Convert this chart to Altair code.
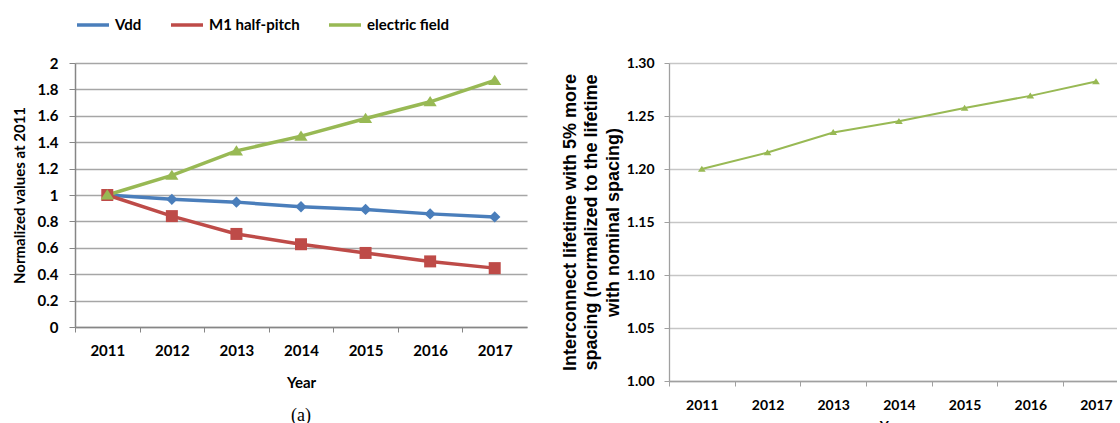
import altair as alt
import pandas as pd

# ---------------- data ----------------
years = [2011, 2012, 2013, 2014, 2015, 2016, 2017]
vdd = [1.000, 0.967, 0.946, 0.911, 0.891, 0.857, 0.834]
m1_half_pitch = [1.000, 0.840, 0.705, 0.627, 0.561, 0.497, 0.446]
electric_field = [1.000, 1.149, 1.334, 1.446, 1.580, 1.706, 1.868]
lifetime_ratio = [1.200, 1.2155, 1.2345, 1.245, 1.2575, 1.269, 1.2825]

series_names = ["Vdd", "M1 half-pitch", "electric field"]
series_colors = ["#4A7EBB", "#BE4B48", "#98B954"]

# marker paths (unit coords)
marker_paths = [
    "M0,-0.95L0.95,0L0,0.95L-0.95,0Z",
    "M-1,-1L1,-1L1,1L-1,1Z",
    "M0,-0.95L1.1,0.75L-1.1,0.75Z",
]

FONT = "Lato"

df_a = pd.DataFrame({
    "Year": years * 3,
    "value": vdd + m1_half_pitch + electric_field,
    "series": [s for s in series_names for _ in years],
})
df_b = pd.DataFrame({"Year": years, "ratio": lifetime_ratio})

# ---------------- chart (a) ----------------
W_A, H_A = 452, 264
x_a = alt.X(
    "Year:Q",
    title="Year",
    scale=alt.Scale(domain=[2010.5, 2017.5], nice=False, zero=False),
    axis=alt.Axis(
        values=[2010.5 + i for i in range(7)],
        labelExpr="format(datum.value + 0.5, 'd')",
        labelOffset=W_A / 14,
        labelFlush=False,
        labelOverlap=False,
        grid=False,
        tickSize=5,
        labelPadding=11,
        titlePadding=17,
        labelFontSize=15,
        titleFontSize=15,
        domainColor="#868686",
        tickColor="#868686",
        domainWidth=1.5,
    ),
)
y_a = alt.Y(
    "value:Q",
    title="Normalized values at 2011",
    scale=alt.Scale(domain=[0, 2], nice=False),
    axis=alt.Axis(
        values=[0, 0.2, 0.4, 0.6, 0.8, 1, 1.2, 1.4, 1.6, 1.8, 2],
        format="~g",
        tickSize=6,
        labelPadding=11,
        titlePadding=10,
        labelFontSize=15,
        titleFontSize=15,
        gridColor="#A6A6A6",
        gridWidth=1.3,
        domainColor="#868686",
        tickColor="#868686",
        domainWidth=1.5,
    ),
)

legend_def = alt.Legend(
    title=None,
    orient="top",
    offset=30,
    symbolType="M-1,0L1,0",
    symbolSize=1024,
    symbolStrokeWidth=3.5,
    labelFont=FONT,
    labelFontWeight="bold",
    labelFontSize=15,
    labelColor="black",
    columnPadding=22,
)
color_a = alt.Color("series:N", scale=alt.Scale(domain=series_names, range=series_colors), legend=legend_def)

base_a = alt.Chart(df_a)
lines_a = base_a.mark_line(strokeWidth=3.5).encode(x=x_a, y=y_a, color=color_a)

marker_layers = []
for name, col, path in zip(series_names, series_colors, marker_paths):
    marker_layers.append(
        base_a.transform_filter(alt.datum.series == name)
        .mark_point(shape=path, filled=True, color=col, opacity=1, size=144, strokeWidth=0)
        .encode(x=x_a, y=y_a)
    )

chart_a = alt.layer(lines_a, *marker_layers).properties(
    width=W_A,
    height=H_A,
    title=alt.TitleParams(
        "(a)", orient="bottom", font="Liberation Serif", fontSize=18,
        fontWeight="normal", anchor="middle", offset=17, color="black",
    ),
)

# ---------------- chart (b) ----------------
W_B, H_B = 448, 318
x_b = alt.X(
    "Year:Q",
    title="Year",
    scale=alt.Scale(domain=[2010.5, 2017.32], nice=False, zero=False),
    axis=alt.Axis(
        values=[2010.5 + i for i in range(7)],
        labelExpr="format(datum.value + 0.5, 'd')",
        labelOffset=W_B / 6.82 / 2,
        labelFlush=False,
        labelOverlap=False,
        grid=False,
        tickSize=5,
        labelPadding=12,
        titlePadding=7,
        labelFontSize=14,
        titleFontSize=14,
        domainColor="#A0A0A0",
        tickColor="#A0A0A0",
        domainWidth=1.3,
    ),
)
y_b = alt.Y(
    "ratio:Q",
    title=["Interconnect lifetime with 5% more",
           "spacing (normalized to the lifetime",
           "with nominal spacing)"],
    scale=alt.Scale(domain=[1.0, 1.3], nice=False, zero=False),
    axis=alt.Axis(
        values=[1.0, 1.05, 1.1, 1.15, 1.2, 1.25, 1.3],
        format=".2f",
        tickSize=5,
        labelPadding=10,
        titlePadding=4,
        labelFontSize=14,
        titleFont="Liberation Sans",
        titleFontSize=18,
        titleLineHeight=21.5,
        gridColor="#C6C6C6",
        gridWidth=1.3,
        domainColor="#A0A0A0",
        tickColor="#A0A0A0",
        domainWidth=1.3,
    ),
)
base_b = alt.Chart(df_b)
line_b = base_b.mark_line(color="#98B954", strokeWidth=2).encode(x=x_b, y=y_b)
pts_b = base_b.mark_point(shape=marker_paths[2], filled=True, color="#98B954", opacity=1,
                          size=49, strokeWidth=0).encode(x=x_b, y=y_b)
chart_b = alt.layer(line_b, pts_b).properties(
    width=W_B,
    height=H_B,
    title=alt.TitleParams(
        "(b)", orient="bottom", font="Liberation Serif", fontSize=18,
        fontWeight="normal", anchor="middle", offset=17, color="black",
    ),
)

chart = (
    alt.hconcat(chart_a, chart_b, spacing=34)
    .resolve_scale(color="independent")
    .resolve_legend(color="independent")
    .properties(padding={"left": 12, "top": 7, "right": 0, "bottom": 0}, background="white")
    .configure_view(stroke=None)
    .configure_axis(
        labelFont=FONT, labelFontWeight="bold", labelColor="black",
        titleFont=FONT, titleFontWeight="bold", titleColor="black",
    )
)

chart.save("out.html", embed_options={"renderer": "svg", "actions": False})
